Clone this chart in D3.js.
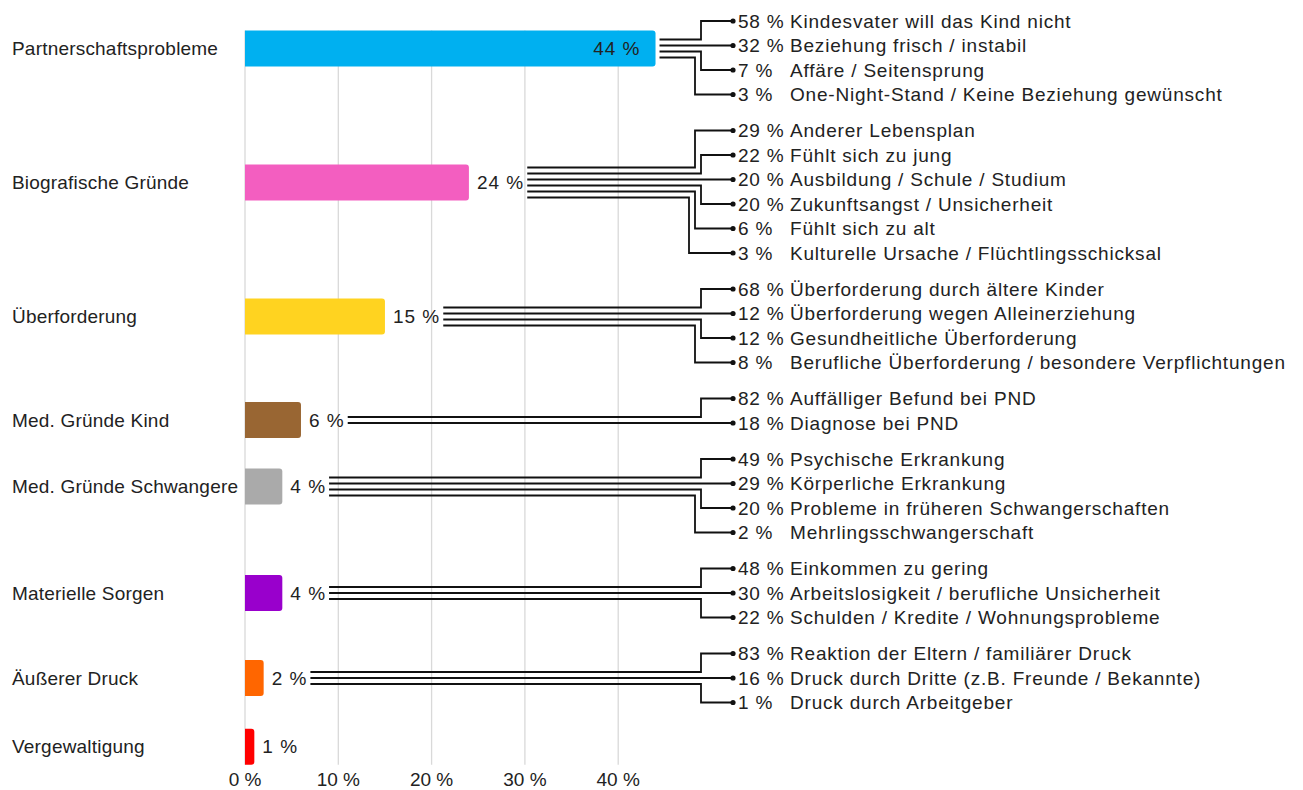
<!DOCTYPE html>
<html>
<head>
<meta charset="utf-8">
<script src="https://cdn.jsdelivr.net/npm/d3@7"></script>
<style>
  body { margin: 0; background: #fff; }
  text { font-family: "Liberation Sans", Arial, sans-serif; fill: #222; }
</style>
</head>
<body>
<div id="chart"></div>
<script>
// Main categories and their shares (%)
var categories = ["Partnerschaftsprobleme", "Biografische Gründe", "Überforderung", "Med. Gründe Kind",
  "Med. Gründe Schwangere", "Materielle Sorgen", "Äußerer Druck", "Vergewaltigung"];
var values = [44, 24, 15, 6, 4, 4, 2, 1];
var colors = ["#00b0f0", "#f35ec0", "#ffd320", "#996633", "#aaaaaa", "#9900cc", "#ff6600", "#ff0000"];

// Sub reasons per category
var subLabels = [
  ["Kindesvater will das Kind nicht", "Beziehung frisch / instabil", "Affäre / Seitensprung", "One-Night-Stand / Keine Beziehung gewünscht"],
  ["Anderer Lebensplan", "Fühlt sich zu jung", "Ausbildung / Schule / Studium", "Zukunftsangst / Unsicherheit", "Fühlt sich zu alt", "Kulturelle Ursache / Flüchtlingsschicksal"],
  ["Überforderung durch ältere Kinder", "Überforderung wegen Alleinerziehung", "Gesundheitliche Überforderung", "Berufliche Überforderung / besondere Verpflichtungen"],
  ["Auffälliger Befund bei PND", "Diagnose bei PND"],
  ["Psychische Erkrankung", "Körperliche Erkrankung", "Probleme in früheren Schwangerschaften", "Mehrlingsschwangerschaft"],
  ["Einkommen zu gering", "Arbeitslosigkeit / berufliche Unsicherheit", "Schulden / Kredite / Wohnungsprobleme"],
  ["Reaktion der Eltern / familiärer Druck", "Druck durch Dritte (z.B. Freunde / Bekannte)", "Druck durch Arbeitgeber"],
  []
];
var subValues = [
  [58, 32, 7, 3],
  [29, 22, 20, 20, 6, 3],
  [68, 12, 12, 8],
  [82, 18],
  [49, 29, 20, 2],
  [48, 30, 22],
  [83, 16, 1],
  []
];
var xTicks = [0, 10, 20, 30, 40];

var svgWidth = 1303;
var svgHeight = 790;

var svg = d3.select("#chart")
  .append("svg")
  .attr("width", svgWidth)
  .attr("height", svgHeight);

// x scale for bars
var x = d3.scaleLinear()
  .domain([0, 50])
  .range([245, 711.5]);

// row layout for the sub reasons: rows of equal height, small gap between groups
var rowH = 24.5;
var groupGap = 11.5;
var firstRow = 21;
var lineGap = 6;
var barH = 36;

var rowY = d3.scaleLinear().domain([0, 1]).range([firstRow, firstRow + rowH]);

var groups = [];
var rowCount = 0;
categories.forEach(function(c, i) {
  var n = subLabels[i].length;
  var start = rowY(rowCount) + i * groupGap;
  var s = Math.min(n - 1, Math.max(1, Math.floor((n - 1) / 2)));
  var rows = subLabels[i].map(function(l, k) { return start + k * rowH; });
  var center;
  if (n > 0) {
    center = rows[s] - (s - (n - 1) / 2) * lineGap;
  } else {
    center = start + rowH / 3;
  }
  groups.push({ name: c, value: values[i], color: colors[i], n: n, s: s, rows: rows, center: center,
    labels: subLabels[i], subs: subValues[i] });
  rowCount += n;
});

var plotTop = groups[0].center - barH / 2;
var plotBottom = groups[groups.length - 1].center + barH / 2;

// grid lines
svg.append("g")
  .selectAll("line")
  .data(xTicks)
  .enter()
  .append("line")
  .attr("x1", d => x(d))
  .attr("x2", d => x(d))
  .attr("y1", plotTop)
  .attr("y2", plotBottom)
  .attr("stroke", "#d9d9d9")
  .attr("stroke-width", 1.3);

// tick labels
svg.append("g")
  .selectAll("text")
  .data(xTicks)
  .enter()
  .append("text")
  .attr("x", d => x(d))
  .attr("y", 786)
  .attr("text-anchor", "middle")
  .attr("font-size", "19px")
  .text(d => d + " %");

// bars with rounded right end
function barPath(d) {
  var x0 = x(0), x1 = x(d.value), y0 = d.center - barH / 2, r = 3;
  return "M" + x0 + "," + y0 + "H" + (x1 - r) + "Q" + x1 + "," + y0 + " " + x1 + "," + (y0 + r) +
    "V" + (y0 + barH - r) + "Q" + x1 + "," + (y0 + barH) + " " + (x1 - r) + "," + (y0 + barH) +
    "H" + x0 + "Z";
}

svg.append("g")
  .selectAll("path")
  .data(groups)
  .enter()
  .append("path")
  .attr("d", barPath)
  .attr("fill", d => d.color);

// category labels
svg.append("g")
  .selectAll("text")
  .data(groups)
  .enter()
  .append("text")
  .attr("x", 12)
  .attr("y", d => d.center)
  .attr("dy", "0.35em")
  .attr("font-size", "19px")
  .attr("letter-spacing", "0.2px")
  .text(d => d.name);

// value labels + connector bundles
var dotX = 733;
var elbowBase = 707;

groups.forEach(function(g) {
  var inside = g.value >= 30;
  var lbl = svg.append("text")
    .attr("y", g.center)
    .attr("dy", "0.35em")
    .attr("font-size", "19px")
    .attr("letter-spacing", "1px")
    .text(g.value + " %");
  var startX;
  if (inside) {
    lbl.attr("x", x(g.value) - 15).attr("text-anchor", "end");
    startX = x(g.value) + 4;
  } else {
    lbl.attr("x", x(g.value) + 8);
    startX = x(g.value) + 8 + lbl.node().getComputedTextLength() + 3;
  }

  g.labels.forEach(function(l, k) {
    var ly = g.center + (k - (g.n - 1) / 2) * lineGap;
    var ry = g.rows[k];
    var d = k - g.s;
    var ex = elbowBase - lineGap * Math.abs(d);
    var pts = d === 0
      ? [[startX, ly], [dotX, ly]]
      : [[startX, ly], [ex, ly], [ex, ry], [dotX, ry]];
    svg.append("path")
      .attr("d", d3.line()(pts))
      .attr("fill", "none")
      .attr("stroke", "#111")
      .attr("stroke-width", 1.8);
    var ty = d === 0 ? ly : ry;
    svg.append("circle")
      .attr("cx", dotX)
      .attr("cy", ty)
      .attr("r", 2.6)
      .attr("fill", "#111");
    svg.append("text")
      .attr("x", dotX + 5)
      .attr("y", ty)
      .attr("dy", "0.35em")
      .attr("font-size", "19px")
      .attr("letter-spacing", "0.8px")
      .text(g.subs[k] + " %");
    svg.append("text")
      .attr("x", 790)
      .attr("y", ty)
      .attr("dy", "0.35em")
      .attr("font-size", "19px")
      .attr("letter-spacing", "0.8px")
      .text(l);
  });
});
</script>
</body>
</html>
